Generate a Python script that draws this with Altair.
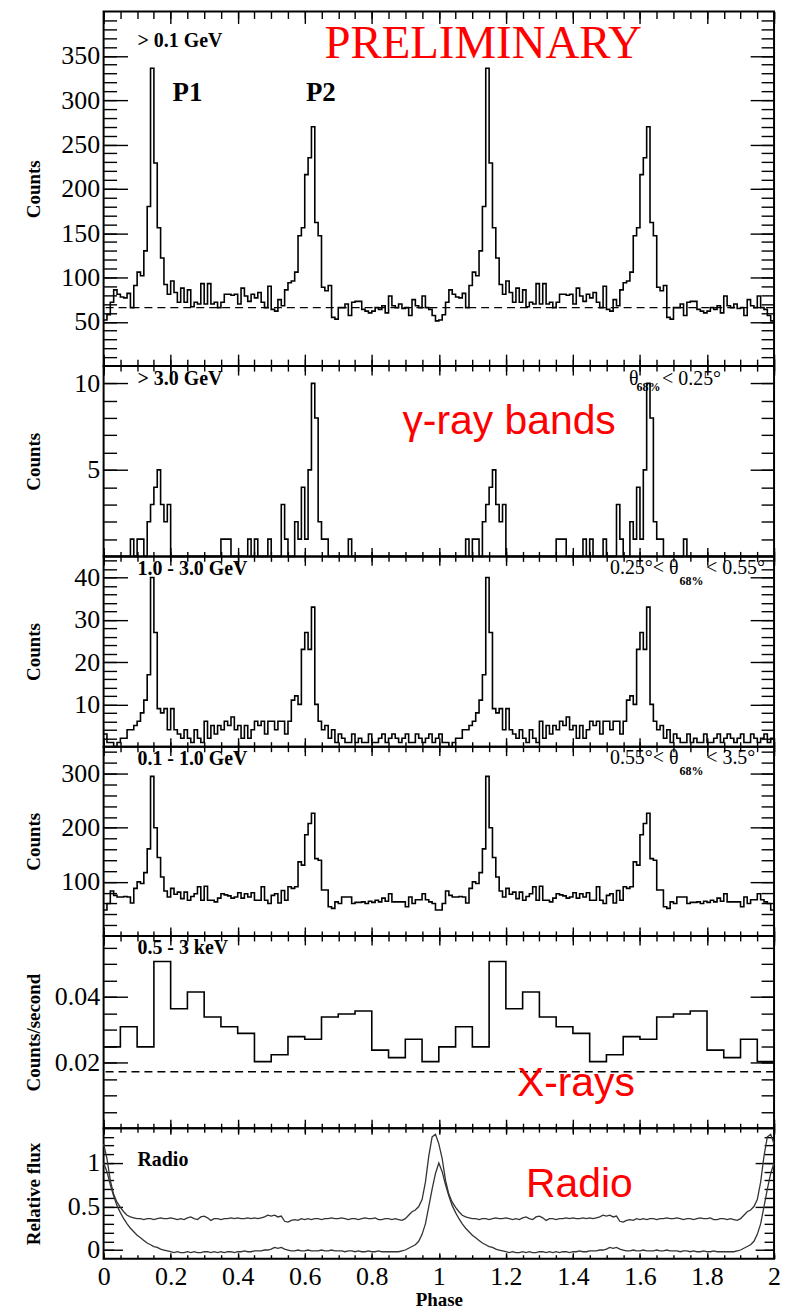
import altair as alt
import pandas as pd

# ------------------------------------------------------------------ data
# one rotational cycle of each light curve (phase 0 -> 1); the plot shows two cycles
gev_01 = [52, 58, 72, 86, 81, 78, 77, 82, 66, 91,
          106, 102, 130, 180, 336, 229, 156, 122, 92, 81,
          96, 83, 72, 88, 72, 86, 67, 72, 70, 93,
          70, 93, 70, 72, 66, 72, 81, 81, 80, 81,
          70, 88, 79, 73, 81, 77, 83, 72, 66, 90,
          64, 62, 75, 68, 86, 94, 96, 106, 147, 156,
          216, 235, 270, 162, 147, 89, 85, 91, 55, 53,
          66, 66, 70, 57, 72, 73, 73, 64, 62, 60,
          62, 66, 64, 68, 60, 79, 68, 66, 70, 65,
          66, 57, 75, 68, 66, 79, 66, 64, 57, 51]

gev_3 = [0, 0, 0, 0, 0, 0, 0, 0, 1, 0,
         1, 1, 0, 2, 3, 4, 5, 3, 2, 3,
         0, 0, 0, 0, 0, 0, 0, 0, 0, 0,
         0, 0, 0, 0, 0, 1, 1, 1, 0, 0,
         0, 0, 0, 1, 0, 1, 0, 0, 0, 1,
         0, 0, 0, 3, 1, 0, 0, 2, 1, 4,
         1, 5, 10, 8, 2, 1, 1, 0, 0, 0,
         0, 0, 0, 1, 0, 0, 0, 0, 0, 0,
         0, 0, 0, 0, 0, 0, 0, 0, 0, 0,
         0, 0, 0, 0, 0, 0, 0, 0, 0, 0]

gev_1_3 = [3, 1, 1, 0, 1, 2, 2, 4, 4, 5,
           6, 8, 11, 17, 40, 27, 9, 8, 9, 4,
           9, 4, 3, 2, 4, 2, 1, 4, 2, 1,
           6, 2, 5, 3, 5, 4, 6, 5, 7, 4,
           5, 2, 5, 2, 4, 6, 5, 6, 3, 6,
           6, 4, 6, 6, 3, 6, 11, 12, 10, 23,
           27, 23, 33, 10, 6, 4, 5, 2, 4, 1,
           3, 2, 1, 1, 3, 1, 2, 1, 1, 3,
           1, 1, 2, 3, 1, 2, 3, 2, 1, 2,
           3, 1, 1, 3, 2, 1, 2, 3, 1, 2]

gev_01_1 = [48, 60, 83, 75, 72, 72, 73, 72, 61, 88,
            100, 97, 117, 161, 295, 200, 145, 109, 83, 72,
            88, 77, 81, 69, 81, 66, 73, 78, 91, 66,
            92, 66, 66, 63, 70, 78, 76, 74, 70, 72,
            80, 70, 78, 72, 80, 66, 66, 91, 66, 60,
            75, 78, 61, 84, 66, 91, 88, 91, 137, 131,
            187, 208, 227, 143, 140, 85, 85, 54, 51, 63,
            60, 72, 72, 72, 60, 62, 62, 63, 60, 64,
            62, 66, 63, 70, 64, 78, 63, 63, 63, 63,
            54, 72, 60, 67, 67, 78, 67, 63, 60, 48]

xray = [0.0248, 0.0309, 0.0248, 0.0508, 0.0364, 0.0415, 0.0339, 0.0309, 0.0289, 0.0203,
        0.0224, 0.0279, 0.0271, 0.0339, 0.0348, 0.0357, 0.0238, 0.0215, 0.0271, 0.0203]

radio_low = [1.00, 0.90, 0.75, 0.62, 0.51, 0.43, 0.36, 0.30, 0.25, 0.21,
             0.17, 0.14, 0.11, 0.08, 0.06, 0.04, 0.03, 0.01, 0.00, -0.01,
             -0.02, -0.03, -0.02, -0.03, -0.03, -0.02, -0.03, -0.02, -0.03, -0.03,
             -0.02, -0.02, -0.03, -0.02, -0.03, -0.02, -0.03, -0.02, -0.02, -0.03,
             -0.02, -0.02, -0.01, -0.02, -0.02, -0.01, -0.01, -0.01, 0.00, 0.00,
             0.01, 0.03, 0.02, 0.03, 0.01, 0.00, -0.01, -0.01, 0.00, -0.01,
             -0.01, 0.00, -0.01, -0.01, -0.01, 0.00, -0.01, -0.01, 0.00, -0.01,
             -0.01, -0.01, -0.02, -0.01, -0.01, -0.02, -0.01, -0.02, -0.02, -0.01,
             -0.02, -0.02, -0.01, -0.02, -0.02, -0.02, -0.02, -0.02, -0.02, -0.01,
             0.00, 0.02, 0.04, 0.06, 0.10, 0.18, 0.30, 0.50, 0.70, 0.88]

radio_high = [1.22, 1.05, 0.80, 0.64, 0.55, 0.49, 0.44, 0.40, 0.38, 0.37,
              0.36, 0.36, 0.35, 0.36, 0.36, 0.35, 0.36, 0.37, 0.36, 0.36,
              0.37, 0.36, 0.35, 0.36, 0.35, 0.37, 0.38, 0.36, 0.35, 0.38,
              0.39, 0.37, 0.34, 0.36, 0.36, 0.35, 0.36, 0.36, 0.37, 0.36,
              0.37, 0.36, 0.36, 0.37, 0.36, 0.37, 0.36, 0.37, 0.38, 0.40,
              0.39, 0.40, 0.38, 0.39, 0.33, 0.32, 0.34, 0.35, 0.34, 0.36,
              0.35, 0.36, 0.35, 0.36, 0.36, 0.35, 0.36, 0.36, 0.37, 0.36,
              0.36, 0.37, 0.36, 0.35, 0.36, 0.36, 0.35, 0.36, 0.37, 0.36,
              0.36, 0.37, 0.35, 0.35, 0.36, 0.36, 0.35, 0.36, 0.35, 0.34,
              0.36, 0.40, 0.44, 0.46, 0.50, 0.58, 0.78, 1.08, 1.30, 1.33]

baseline_01 = 66          # dashed background level, > 0.1 GeV
baseline_xray = 0.0172    # dashed background level, X-rays

x_major = [round(i * 0.2, 1) for i in range(11)]
x_minor = [round(i * 0.05, 2) for i in range(41)]

# ------------------------------------------------------------------ helpers
W = 673
SERIF = "Liberation Serif"
SANS = "Liberation Sans"
N_CYCLES = 2


def cycles_frame(values, last):
    n = len(values)
    rows = []
    for c in range(N_CYCLES):
        for i, v in enumerate(values):
            rows.append({"phase": c + i / n, "v": v})
    rows.append({"phase": float(N_CYCLES), "v": last})
    return pd.DataFrame(rows)


def tick_axis(orient, offset, values, size):
    return alt.Axis(orient=orient, offset=offset, values=values, tickSize=size,
                    ticks=True, labels=False, domain=False, grid=False, title=None,
                    tickColor="black", tickWidth=1.4)


def text_layer(xs, ys, x, y, text, size, font=SERIF, weight="bold", color="black",
               align="left", baseline="middle"):
    df = pd.DataFrame({"x": [x], "y": [y], "t": [text]})
    return alt.Chart(df).mark_text(
        font=font, fontSize=size, fontWeight=weight, color=color,
        align=align, baseline=baseline,
    ).encode(
        x=alt.X("x:Q", scale=xs, axis=None),
        y=alt.Y("y:Q", scale=ys, axis=None),
        text="t:N",
    )


def rule_layer(xs, ys, yval):
    df = pd.DataFrame({"y": [yval]})
    return alt.Chart(df).mark_rule(color="black", strokeWidth=1.4, strokeDash=[8, 5]).encode(
        y=alt.Y("y:Q", scale=ys, axis=None)
    )


def panel(data_layers_fn, df_axes, ydom, H, ymaj, ymin, ylab, yfmt, ytitle,
          ylen=(24, 13), xlen=(9, 5), xlabels=False):
    xs = alt.Scale(domain=[0, 2], nice=False, zero=False)
    ys = alt.Scale(domain=ydom, nice=False, zero=False)
    base = alt.Chart(df_axes)

    def ax_layer(xaxis, yaxis):
        return base.mark_point(opacity=0, size=1).encode(
            x=alt.X("phase:Q", scale=xs, axis=xaxis),
            y=alt.Y("v:Q", scale=ys, axis=yaxis),
        )

    ylabel_axis = alt.Axis(
        orient="left", values=ylab, format=yfmt, ticks=False, domain=False, grid=False,
        labelFont=SERIF, labelFontSize=26, labelPadding=4, labelColor="black",
        labelOverlap=False, labelFlush=False,
        title=ytitle, titleFont=SERIF, titleFontSize=19, titleFontWeight="bold",
        titleColor="black", titleX=-64, titleY=H / 2, titleAngle=270,
        titleAlign="center", titleBaseline="alphabetic",
    )
    if xlabels:
        xlabel_axis = alt.Axis(
            orient="bottom", values=x_major, format="~g", ticks=False, domain=False,
            grid=False, labelFont=SERIF, labelFontSize=26, labelPadding=5,
            labelColor="black", labelOverlap=False, labelFlush=False,
            title="Phase", titleFont=SERIF, titleFontSize=19, titleFontWeight="bold",
            titleColor="black", titleY=47, titleBaseline="alphabetic",
        )
    else:
        xlabel_axis = None

    layers = [
        ax_layer(tick_axis("bottom", -H, x_major, xlen[0]), ylabel_axis),
        ax_layer(tick_axis("bottom", -H, x_minor, xlen[1]), tick_axis("right", -W, ymaj, ylen[0])),
        ax_layer(tick_axis("top", -H, x_major, xlen[0]), tick_axis("right", -W, ymin, ylen[1])),
        ax_layer(tick_axis("top", -H, x_minor, xlen[1]), tick_axis("left", -W, ymaj, ylen[0])),
        ax_layer(xlabel_axis, tick_axis("left", -W, ymin, ylen[1])),
    ]
    layers += data_layers_fn(xs, ys)
    return alt.layer(*layers).resolve_axis(x="independent", y="independent").properties(
        width=W, height=H)


def hist_fn(df, extra):
    def fn(xs, ys):
        line = alt.Chart(df).mark_line(interpolate="step-after", color="black",
                                       strokeWidth=1.6).encode(
            x=alt.X("phase:Q", scale=xs, axis=None),
            y=alt.Y("v:Q", scale=ys, axis=None),
        )
        return [line] + [e(xs, ys) for e in extra]
    return fn


def theta_labels(lead, sub, tail, y_main, y_sub):
    return [
        lambda xs, ys: text_layer(xs, ys, lead[0], y_main, lead[1], 20, weight="normal", align="right"),
        lambda xs, ys: text_layer(xs, ys, sub[0], y_sub, sub[1], 12, weight="bold", align="left"),
        lambda xs, ys: text_layer(xs, ys, tail[0], y_main, tail[1], 20, weight="normal", align="right"),
    ]


# ------------------------------------------------------------------ panels
df1 = cycles_frame(gev_01, gev_01[-1])
p1 = panel(
    hist_fn(df1, [
        lambda xs, ys: rule_layer(xs, ys, baseline_01),
        lambda xs, ys: text_layer(xs, ys, 0.101, 367, "> 0.1 GeV", 20),
        lambda xs, ys: text_layer(xs, ys, 0.25, 308, "P1", 27, align="center"),
        lambda xs, ys: text_layer(xs, ys, 0.648, 308, "P2", 27, align="center"),
        lambda xs, ys: text_layer(xs, ys, 1.132, 347, "PRELIMINARY", 47, weight="normal",
                                  color="#ff0000", align="center", baseline="alphabetic"),
    ]),
    df1, [0, 400], 356,
    [50, 100, 150, 200, 250, 300, 350],
    [10 * i for i in range(1, 40)],
    [50, 100, 150, 200, 250, 300, 350], "d", "Counts", xlen=(12, 7))

df2 = cycles_frame(gev_3, gev_3[-1])
p2 = panel(
    hist_fn(df2, [
        lambda xs, ys: text_layer(xs, ys, 0.101, 10.25, "> 3.0 GeV", 20),
        lambda xs, ys: text_layer(xs, ys, 0.8915, 7.08, "γ-ray bands", 41, font=SANS,
                                  weight="normal", color="#ff0000", baseline="alphabetic"),
    ] + theta_labels((1.596, "θ"), (1.590, "68%"), (1.842, "< 0.25°"), 10.25, 9.79)),
    df2, [0, 11], 191,
    [5, 10], list(range(1, 11)), [5, 10], "d", "Counts")

df3 = cycles_frame(gev_1_3, gev_1_3[-1])
p3 = panel(
    hist_fn(df3, [
        lambda xs, ys: text_layer(xs, ys, 0.101, 41.9, "1.0 - 3.0 GeV", 20),
    ] + theta_labels((1.715, "0.25°< θ"), (1.718, "68%"), (1.973, "< 0.55°"), 42.2, 39.1)),
    df3, [0, 45], 191,
    [10, 20, 30, 40], [2 * i for i in range(1, 23)], [10, 20, 30, 40], "d", "Counts")

df4 = cycles_frame(gev_01_1, gev_01_1[-1])
p4 = panel(
    hist_fn(df4, [
        lambda xs, ys: text_layer(xs, ys, 0.101, 328, "0.1 - 1.0 GeV", 20),
    ] + theta_labels((1.715, "0.55°< θ"), (1.718, "68%"), (1.944, "< 3.5°"), 329.7, 305.8)),
    df4, [0, 350], 190,
    [100, 200, 300], [20 * i for i in range(1, 18)], [100, 200, 300], "d", "Counts")

df5 = cycles_frame(xray, xray[-1])
p5 = panel(
    hist_fn(df5, [
        lambda xs, ys: rule_layer(xs, ys, baseline_xray),
        lambda xs, ys: text_layer(xs, ys, 0.101, 0.0550, "0.5 - 3 keV", 20),
        lambda xs, ys: text_layer(xs, ys, 1.233, 0.0097, "X-rays", 41, font=SANS,
                                  weight="normal", color="#ff0000", baseline="alphabetic"),
    ]),
    df5, [0, 0.0586], 193,
    [0.02, 0.04], [round(0.005 * i, 3) for i in range(1, 12)], [0.02, 0.04], ".2f",
    "Counts/second")

df_low = cycles_frame(radio_low, radio_low[0]).assign(s="low")
df_high = cycles_frame(radio_high, radio_high[0]).assign(s="high")
df6 = pd.concat([df_low, df_high], ignore_index=True)


def radio_fn(xs, ys):
    line = alt.Chart(df6).mark_line(color="#333333", strokeWidth=1.3).encode(
        x=alt.X("phase:Q", scale=xs, axis=None),
        y=alt.Y("v:Q", scale=ys, axis=None),
        detail="s:N",
    )
    return [
        line,
        text_layer(xs, ys, 0.101, 1.034, "Radio", 20),
        text_layer(xs, ys, 1.26, 0.61, "Radio", 41, font=SANS, weight="normal",
                   color="#ff0000", baseline="alphabetic"),
    ]


p6 = panel(radio_fn, df6, [-0.1, 1.4], 131,
           [0, 0.5, 1], [round(0.1 * i, 1) for i in range(-0, 14)], [0, 0.5, 1], "~g",
           "Relative flux", ylen=(19, 10), xlen=(6, 4), xlabels=True)

chart = alt.vconcat(p1, p2, p3, p4, p5, p6, spacing=0, bounds="flush").properties(
    padding={"left": 24, "top": 7, "right": 5, "bottom": 2},
    background="white",
).configure_view(
    stroke="black", strokeWidth=2
).configure_axis(
    labelFont=SERIF, titleFont=SERIF, labelColor="black", titleColor="black"
).configure_text(font=SERIF)

chart.save("out.html", embed_options={"renderer": "svg", "actions": False})
